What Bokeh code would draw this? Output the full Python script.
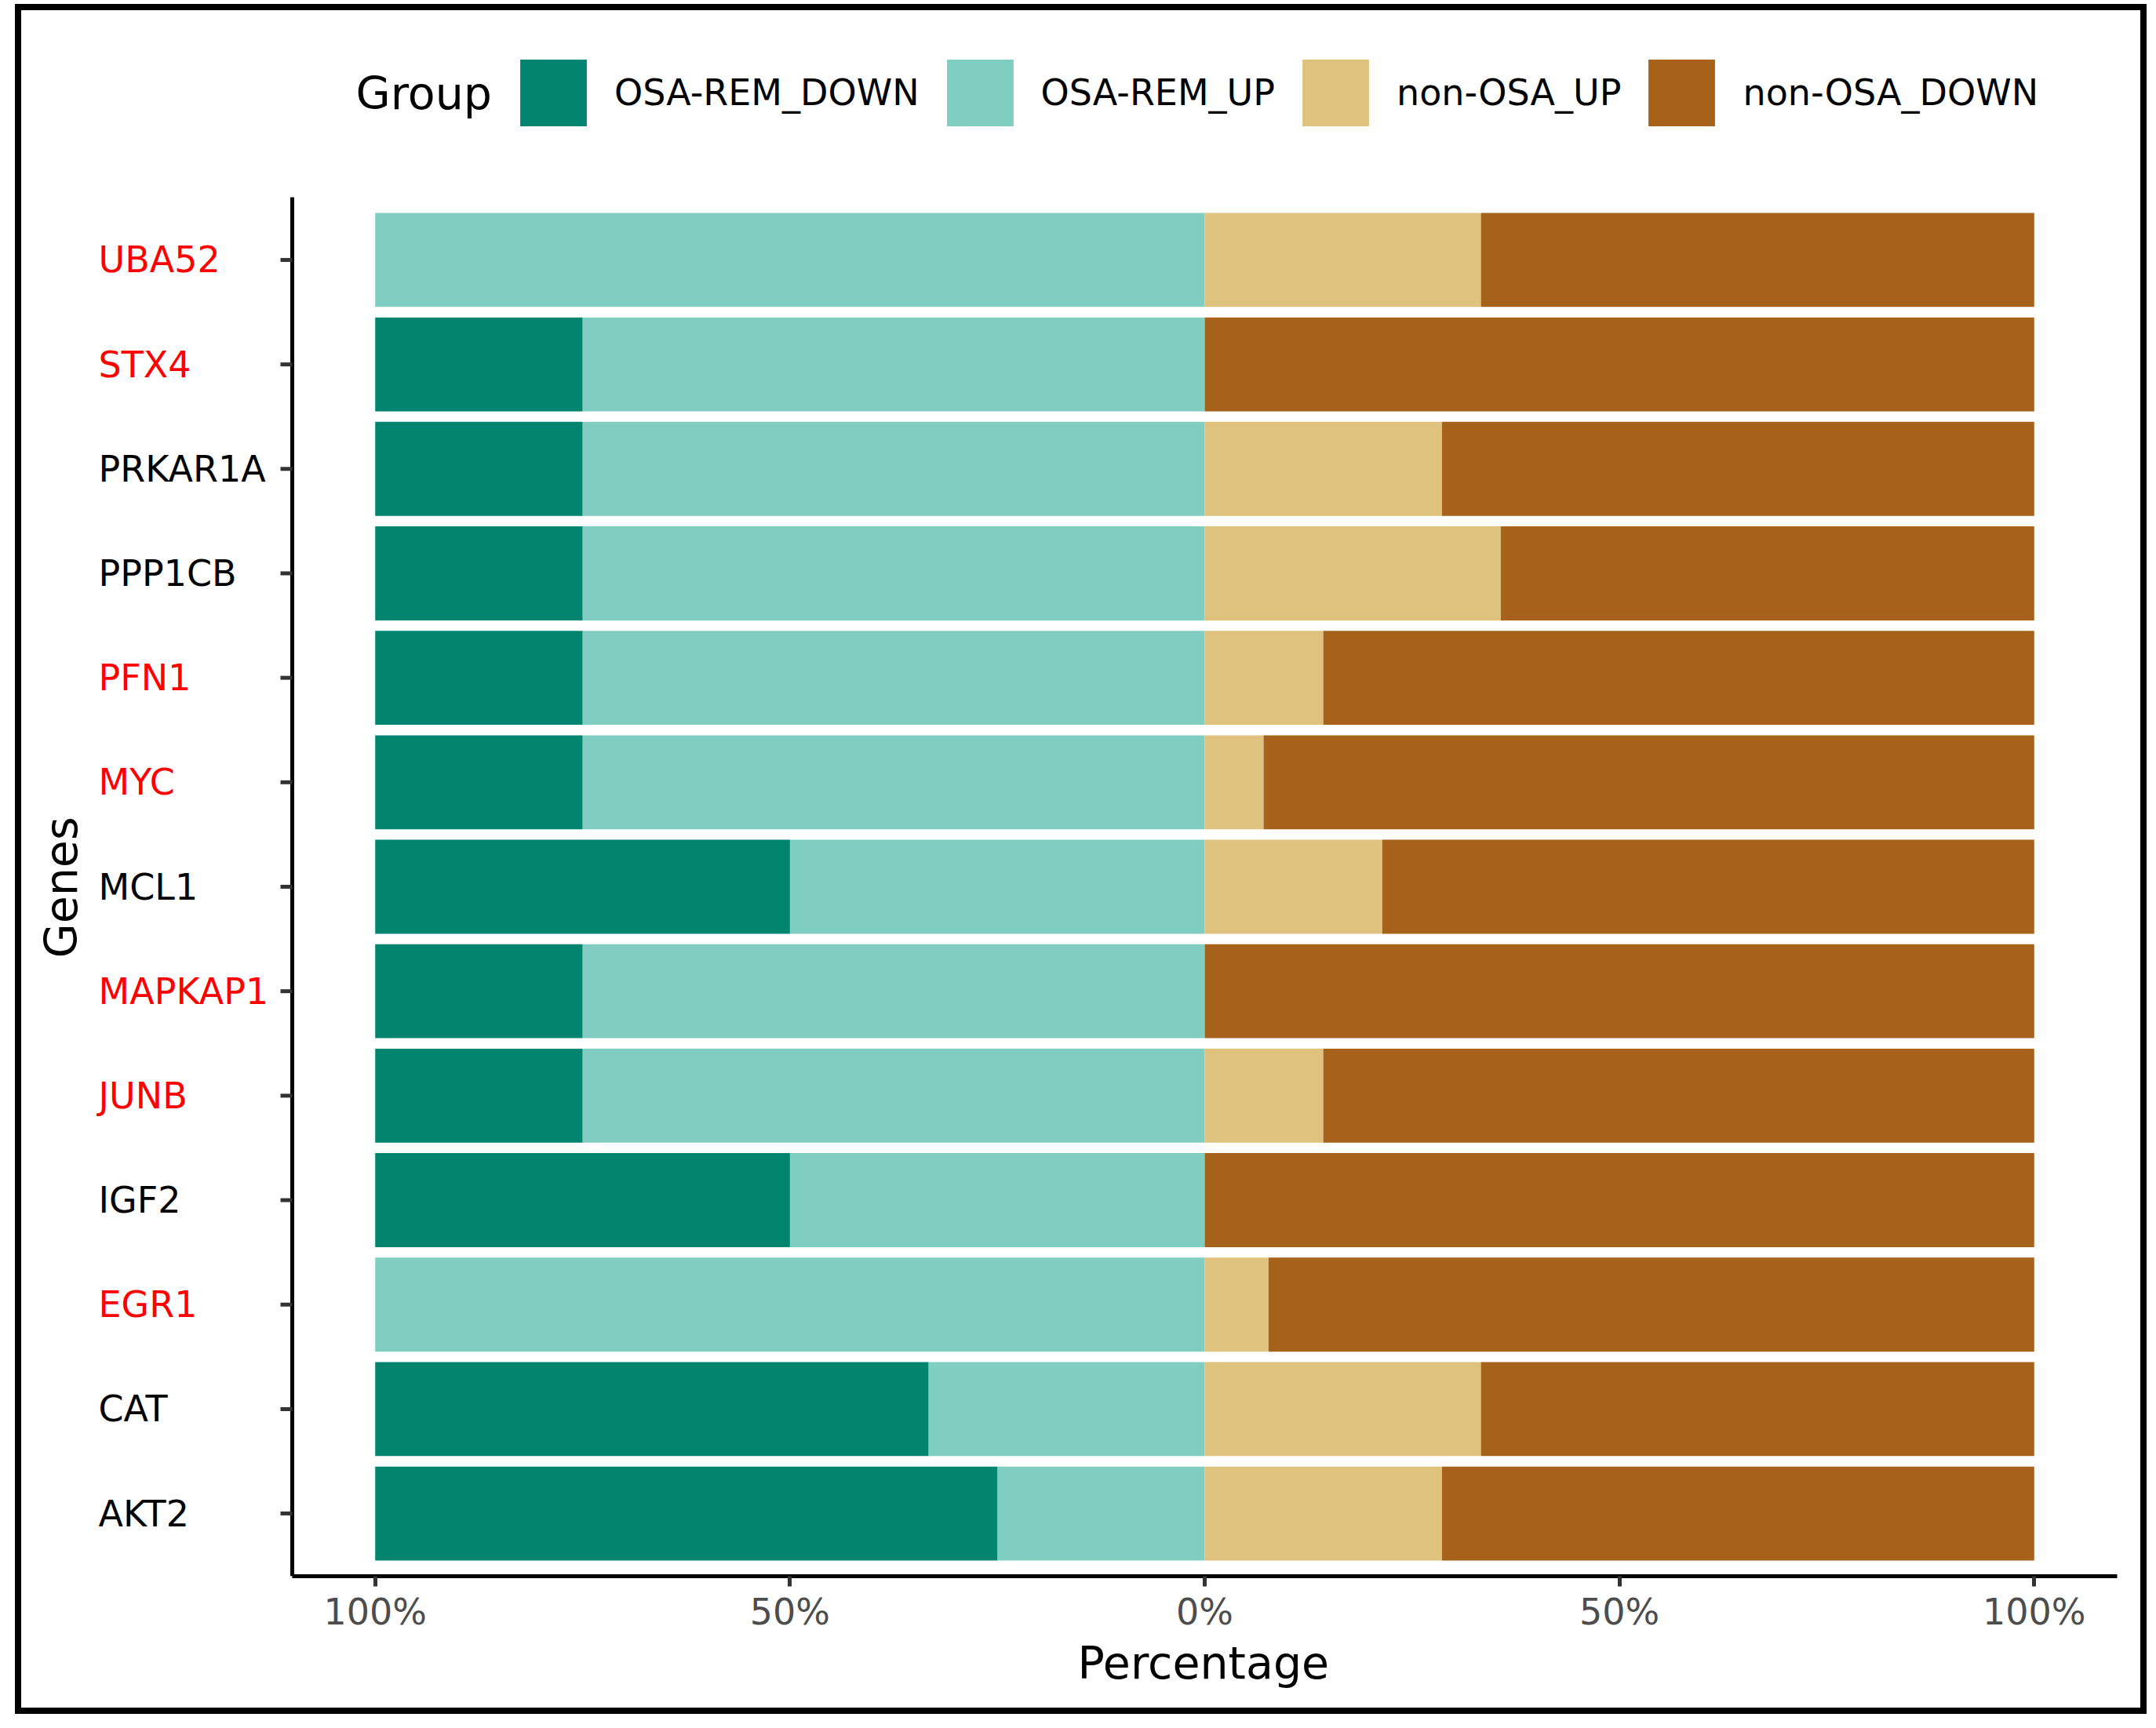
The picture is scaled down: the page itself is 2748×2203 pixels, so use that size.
import numpy as np
from bokeh.plotting import figure
from bokeh.layouts import column, row
from bokeh.models import (ColumnDataSource, Range1d, FixedTicker, Spacer,
                          Legend, LegendItem, Label, Title)
from bokeh.embed import file_html
from bokeh.resources import INLINE

# ---------------- data ----------------
genes = ["UBA52", "STX4", "PRKAR1A", "PPP1CB", "PFN1", "MYC", "MCL1",
         "MAPKAP1", "JUNB", "IGF2", "EGR1", "CAT", "AKT2"]
red_genes = ["UBA52", "STX4", "PFN1", "MYC", "MAPKAP1", "JUNB", "EGR1"]
osa_rem_down = [0, 25, 25, 25, 25, 25, 50, 25, 25, 50, 0, 66.7, 75]
osa_rem_up = [100, 75, 75, 75, 75, 75, 50, 75, 75, 50, 100, 33.3, 25]
non_osa_up = [33.3, 0, 28.6, 35.7, 14.3, 7.1, 21.4, 0, 14.3, 0, 7.7, 33.3, 28.6]
non_osa_down = [66.7, 100, 71.4, 64.3, 85.7, 92.9, 78.6, 100, 85.7, 100, 92.3, 66.7, 71.4]
x_ticks = [-1, -0.5, 0, 0.5, 1]
x_tick_labels = ["100%", "50%", "0%", "50%", "100%"]
group_names = ["OSA-REM_DOWN", "OSA-REM_UP", "non-OSA_UP", "non-OSA_DOWN"]
group_colors = ["#018571", "#80CDC1", "#DFC27D", "#A6611A"]
legend_title = "Group"
x_title = "Percentage"
y_title = "Genes"

FONT = "DejaVu Sans"

# ---------------- geometry (page pixels) ----------------
W, H = 2701, 2164              # canvas, inside the 8px black frame
CX, CY = 27, 14                # page position of the canvas
FL, FR, FT, FB = 110, 2698, 30, 2010   # plot-frame edges
AXIS_X, AXIS_TOP = 372, 252    # y-axis line position / top
GENE_TEXT_X = 125
GROUP_X, GROUP_Y = 453, 119
KEY_LEFT, KEY_BOTTOM = 652, 172
XTITLE_LEFT = 1373
YTITLE_BOTTOM = 1222
SHIFT_X, SHIFT_Y = 8, 7

ML, MR, MT, MB = FL - CX, CX + W - FR, FT - CY, CY + H - FB
n = len(genes)
ypos = np.arange(n)[::-1]                       # UBA52 on top
unit_x = (FR - AXIS_X) / 2.2
unit_y = (FB - AXIS_TOP) / (n + 0.2)
X_LEFT, X_RIGHT = 1.1 - (FR - FL) / unit_x, 1.1
Y_BOT = -0.6
Y_TOP = Y_BOT + (FB - FT) / unit_y
AX_DATA_X = -1.1
gene_label_x = AX_DATA_X - (AXIS_X - GENE_TEXT_X) / unit_x
tick_x0 = AX_DATA_X - 15 / unit_x

src = ColumnDataSource(dict(
    gene=genes,
    ypos=ypos,
    up_neg=-np.array(osa_rem_up) / 100.0,
    down_neg=-np.array(osa_rem_down) / 100.0,
    nup=np.array(non_osa_up) / 100.0,
    ndown=np.array(non_osa_down) / 100.0,
    tx0=[tick_x0] * n,
    tx1=[AX_DATA_X] * n,
))

p = figure(width=W, height=H,
           x_range=Range1d(X_LEFT, X_RIGHT), y_range=Range1d(Y_BOT, Y_TOP),
           output_backend="svg", toolbar_location=None,
           min_border_left=ML, min_border_right=MR,
           min_border_top=MT, min_border_bottom=MB)
p.background_fill_color = "white"
p.border_fill_color = "white"
p.outline_line_color = None
p.xgrid.visible = False
p.ygrid.visible = False

r_left = p.hbar_stack(["up_neg", "down_neg"], y="ypos", height=0.9,
                      fill_color=[group_colors[1], group_colors[0]],
                      line_color=None, source=src)
r_right = p.hbar_stack(["nup", "ndown"], y="ypos", height=0.9,
                       fill_color=[group_colors[2], group_colors[3]],
                       line_color=None, source=src)

# y-axis line and ticks at the -100% side of the panel
p.segment(x0=AX_DATA_X, x1=AX_DATA_X, y0=Y_BOT, y1=n - 1 + 0.6,
          line_color="black", line_width=5)
p.segment(x0="tx0", x1="tx1", y0="ypos", y1="ypos", source=src,
          line_color="#333333", line_width=5)

# ---------------- axes ----------------
xa = p.xaxis[0]
xa.bounds = (-1.1, 1.1)
xa.ticker = FixedTicker(ticks=x_ticks)
xa.major_label_overrides = {t: l for t, l in zip(x_ticks, x_tick_labels)}
xa.major_label_text_font = FONT
xa.major_label_text_font_size = "46px"
xa.major_label_text_color = "#4D4D4D"
xa.major_label_standoff = 5
xa.major_tick_out = 13
xa.major_tick_in = 0
xa.major_tick_line_width = 5
xa.major_tick_line_color = "#333333"
xa.minor_tick_line_color = None
xa.axis_line_width = 5
xa.axis_line_color = "black"

ya = p.yaxis[0]
ya.ticker = FixedTicker(ticks=list(ypos))
ya.axis_line_color = None
ya.major_tick_line_color = None
ya.minor_tick_line_color = None
ya.major_tick_out = 0
ya.major_tick_in = 0
ya.major_label_text_color = None
ya.major_label_text_font_size = "1px"
ya.major_label_standoff = 0

# axis titles, centred on the -100%..100% panel
p.add_layout(Title(text=x_title, align="left", offset=XTITLE_LEFT - FL,
                   text_font=FONT, text_font_size="57px",
                   text_font_style="normal", text_color="black",
                   standoff=0), "below")
p.add_layout(Title(text=y_title, align="left", offset=FB - YTITLE_BOTTOM,
                   text_font=FONT, text_font_size="57px",
                   text_font_style="normal", text_color="black",
                   standoff=0), "left")

for g, yv in zip(genes, ypos):
    p.add_layout(Label(x=gene_label_x, y=float(yv), text=g,
                       text_color="#FF0000" if g in red_genes else "#000000",
                       text_font=FONT, text_font_size="46px",
                       text_align="left", text_baseline="middle"))

# ---------------- legend ----------------
items = [
    LegendItem(label=group_names[0], renderers=[r_left[1]]),
    LegendItem(label=group_names[1], renderers=[r_left[0]]),
    LegendItem(label=group_names[2], renderers=[r_right[0]]),
    LegendItem(label=group_names[3], renderers=[r_right[1]]),
]
legend = Legend(items=items, orientation="horizontal",
                location=(KEY_LEFT - FL, FB - KEY_BOTTOM),
                glyph_width=106, glyph_height=106, label_standoff=25,
                spacing=24, label_text_font=FONT, label_text_font_size="46px",
                label_text_color="black",
                border_line_color=None, background_fill_alpha=0,
                margin=0, padding=0)
p.add_layout(legend)

p.add_layout(Label(x=AX_DATA_X + (GROUP_X - AXIS_X) / unit_x,
                   y=(n - 1 + 0.6) + (AXIS_TOP - GROUP_Y) / unit_y,
                   text=legend_title, text_color="black", text_font=FONT,
                   text_font_size="57px", text_align="left",
                   text_baseline="middle"))

framed = column(p, styles={"border": "8px solid black",
                           "box-sizing": "content-box",
                           "transform": "translate(11px, -2px)"})
root = column(Spacer(width=10, height=SHIFT_Y),
              row(Spacer(width=SHIFT_X, height=10), framed))

open("out.html", "w").write(file_html(root, INLINE))
